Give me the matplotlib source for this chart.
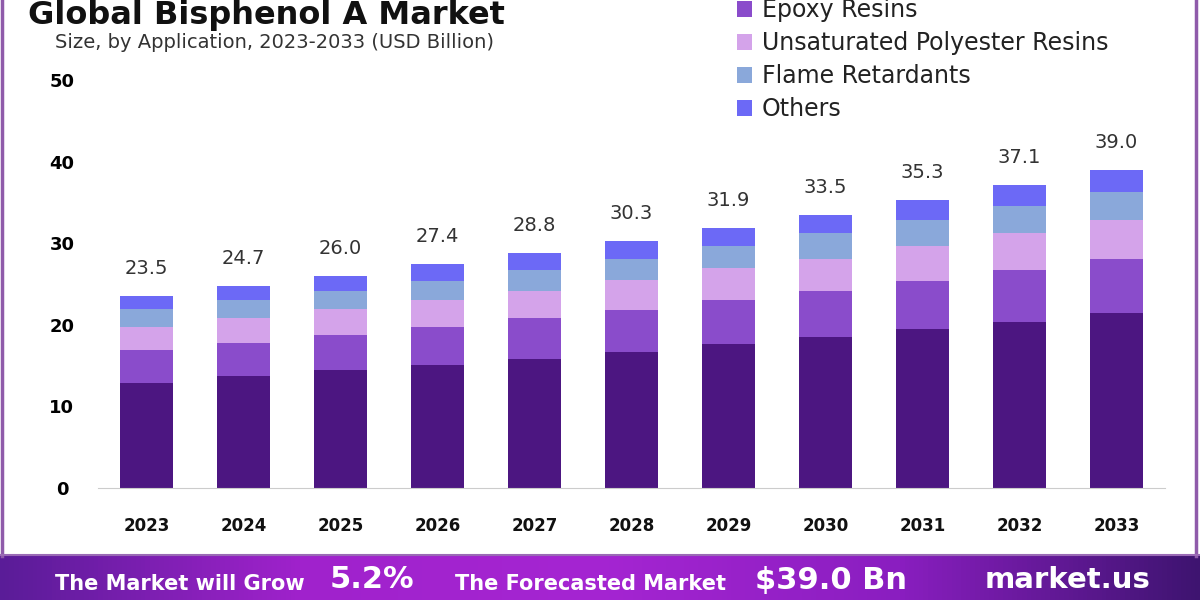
import numpy as np
import matplotlib.pyplot as plt
from matplotlib.lines import Line2D
from matplotlib.colors import LinearSegmentedColormap

years = ['2023', '2024', '2025', '2026', '2027', '2028', '2029', '2030', '2031', '2032', '2033']
totals = [23.5, 24.7, 26.0, 27.4, 28.8, 30.3, 31.9, 33.5, 35.3, 37.1, 39.0]

segments = ['Polycarbonates', 'Epoxy Resins', 'Unsaturated Polyester Resins', 'Flame Retardants', 'Others']
polycarbonates = [12.9, 13.7, 14.4, 15.1, 15.8, 16.7, 17.6, 18.5, 19.5, 20.4, 21.5]
epoxy = [4.0, 4.1, 4.35, 4.6, 5.0, 5.15, 5.4, 5.6, 5.9, 6.3, 6.6]
upr = [2.8, 3.0, 3.15, 3.3, 3.4, 3.65, 3.9, 4.0, 4.2, 4.5, 4.7]
flame = [2.2, 2.2, 2.3, 2.4, 2.5, 2.6, 2.8, 3.1, 3.2, 3.35, 3.5]
others = [1.6, 1.7, 1.8, 2.0, 2.1, 2.2, 2.2, 2.3, 2.5, 2.55, 2.7]

colors = ['#4C1681', '#8A4CCB', '#D4A3EA', '#8AA8DA', '#6C69F6']

fig = plt.figure(figsize=(12, 6), dpi=100)
ax = fig.add_axes([98/1200, 112/600, 1067/1200, 408/600])

x = np.arange(len(years))
bottom = np.zeros(len(years))
bars = []
for name, vals, c in zip(segments, [polycarbonates, epoxy, upr, flame, others], colors):
    b = ax.bar(x, vals, 0.55, bottom=bottom, color=c, label=name)
    bars.append(b)
    bottom += np.array(vals)

for i, t in enumerate(totals):
    ax.annotate(f"{t:.1f}", (i, bottom[i]), xytext=(0, 13), textcoords='offset points',
                ha='center', va='bottom', fontsize=14, color='#333333')

ax.set_xlim(-0.5, 10.5)
ax.set_ylim(0, 50)
ax.set_yticks([0, 10, 20, 30, 40, 50])
ax.set_xticks(x)
ax.set_xticklabels(years, fontsize=12, fontweight='bold', color='#111111')
for lab in ax.get_yticklabels():
    lab.set_fontweight('bold')
    lab.set_fontsize(13)
    lab.set_horizontalalignment('center')
ax.tick_params(axis='y', length=0, pad=26)
ax.tick_params(axis='x', length=0, pad=21)
for s in ['top', 'right', 'left']:
    ax.spines[s].set_visible(False)
ax.spines['bottom'].set_color('#cccccc')

# the first entry (Polycarbonates) sits above the visible area in the reference
ax.legend(bars[1:], segments[1:], loc='lower left', bbox_to_anchor=(725/1200, 1 - 133/600),
          bbox_transform=fig.transFigure, frameon=False, fontsize=17, handlelength=0.65,
          handleheight=0.65, handletextpad=0.4, labelspacing=0.38, borderpad=0,
          labelcolor='#222222')

fig.text(28/1200, 1 - 24/600, 'Global Bisphenol A Market', fontsize=23, fontweight='bold',
         va='baseline', ha='left', color='#111111')
fig.text(55/1200, 1 - 42/600, 'Size, by Application, 2023-2033 (USD Billion)', fontsize=14,
         va='center', ha='left', color='#333333')

# bottom banner
bax = fig.add_axes([0, 0, 1, 44/600])
grad = LinearSegmentedColormap.from_list('b', ['#5A1C98', '#A022CC', '#A525D2', '#8A1EC0', '#3E1470'])
bax.imshow(np.linspace(0, 1, 256).reshape(1, -1), aspect='auto', cmap=grad, extent=[0, 1, 0, 1])
bax.axis('off')

fig.text(55/1200, 1 - 584/600, 'The Market will Grow', fontsize=15, fontweight='bold', color='white', va='center')
fig.text(330/1200, 1 - 580/600, '5.2%', fontsize=22, fontweight='bold', color='white', va='center')
fig.text(455/1200, 1 - 584/600, 'The Forecasted Market', fontsize=15, fontweight='bold', color='white', va='center')
fig.text(755/1200, 1 - 580/600, '$39.0 Bn', fontsize=22, fontweight='bold', color='white', va='center')
fig.text(985/1200, 1 - 580/600, 'market.us', fontsize=21, fontweight='bold', color='white', va='center')

# frame lines
fig.add_artist(Line2D([2/1200, 2/1200], [44/600, 1], color='#8F5BAA', lw=2.5))
fig.add_artist(Line2D([1196/1200, 1196/1200], [44/600, 1], color='#8F5BAA', lw=2.5))
fig.add_artist(Line2D([0, 1], [45/600, 45/600], color='#9A6AB5', lw=1.5))

fig.savefig('out.png', dpi=100)
